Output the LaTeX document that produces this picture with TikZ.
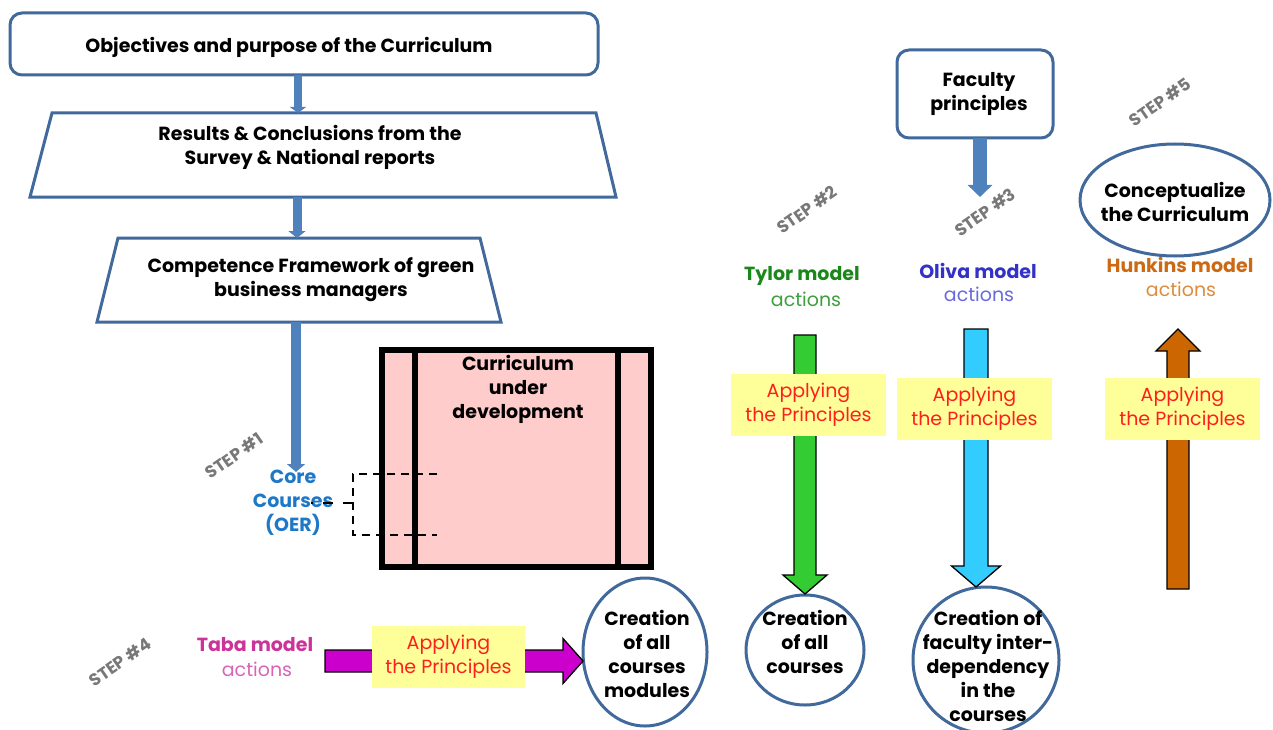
\documentclass[tikz,border=0pt]{standalone}
\usepackage{fontspec}
\setmainfont{Poppins}
\usetikzlibrary{shapes.geometric,arrows.meta,calc}
\definecolor{boxblue}{RGB}{65,105,155}
\definecolor{arrblue}{RGB}{79,129,189}
\definecolor{curpink}{RGB}{255,204,204}
\definecolor{labyellow}{RGB}{255,255,153}
\definecolor{labred}{RGB}{255,30,30}
\definecolor{stepgray}{RGB}{120,120,120}
\definecolor{coreblue}{RGB}{30,120,200}
\definecolor{tylorA}{RGB}{25,135,25}
\definecolor{tylorB}{RGB}{60,160,60}
\definecolor{olivaA}{RGB}{50,50,200}
\definecolor{olivaB}{RGB}{105,105,220}
\definecolor{hunkA}{RGB}{204,106,20}
\definecolor{hunkB}{RGB}{222,140,60}
\definecolor{tabaA}{RGB}{204,51,153}
\definecolor{tabaB}{RGB}{215,100,185}
\definecolor{agreen}{RGB}{51,204,51}
\definecolor{acyan}{RGB}{51,204,255}
\definecolor{aorange}{RGB}{204,102,0}
\definecolor{amagenta}{RGB}{204,0,204}
\newcommand\vblock[7]{%
  \filldraw[fill=#7, draw=black, line width=1.3pt]
    ({#1-#4},#2) -- ({#1+#4},#2) -- ({#1+#4},{#3-#6*sign(#3-#2)}) --
    ({#1+#5},{#3-#6*sign(#3-#2)}) -- (#1,#3) -- ({#1-#5},{#3-#6*sign(#3-#2)}) --
    ({#1-#4},{#3-#6*sign(#3-#2)}) -- cycle;}
\newcommand\hblock[7]{%
  \filldraw[fill=#7, draw=black, line width=1.3pt]
    (#2,{#1-#4}) -- (#2,{#1+#4}) -- ({#3-#6*sign(#3-#2)},{#1+#4}) --
    ({#3-#6*sign(#3-#2)},{#1+#5}) -- (#3,#1) -- ({#3-#6*sign(#3-#2)},{#1-#5}) --
    ({#3-#6*sign(#3-#2)},{#1-#4}) -- cycle;}
\begin{document}
\begin{tikzpicture}[x=1pt,y=-1pt,
  every node/.style={inner sep=0pt, outer sep=0pt, align=center},
  main/.style={font=\fontsize{19}{24}\selectfont\bfseries},
  reg/.style={font=\fontsize{19}{24}\selectfont},
  rbox/.style={draw=boxblue, line width=3pt, rounded corners=12pt, fill=white},
  traparea/.style={rectangle},
  trapline/.style={draw=boxblue, line width=3pt, line join=miter},
  circ/.style={draw=boxblue, line width=3pt, ellipse},
  steplab/.style={font=\fontsize{17}{20}\selectfont\bfseries, text=stepgray, rotate=35},
  ylab/.style={fill=labyellow, text=labred, font=\fontsize{19}{24}\selectfont, minimum height=62pt, minimum width=155pt},
  barrow/.style={draw=arrblue, line width=#1},
]
\useasboundingbox (0,0) rectangle (1273,730);

% ---- left column
\node[rbox, minimum width=588, minimum height=62] (obj) at (304,44) {};
\node[main] (objt) at (289,47) {Objectives and purpose of the Curriculum};

\node[traparea, minimum width=586, minimum height=84] (res) at (323,155) {};
\draw[trapline] ([xshift=22pt]res.north west) -- ([xshift=-20pt]res.north east) -- (res.south east) -- (res.south west) -- cycle;
\node[main] (rest) at (310,147) {Results \& Conclusions from the\\Survey \& National reports};

\node[traparea, minimum width=404, minimum height=84] (comp) at (299,280) {};
\draw[trapline] ([xshift=21pt]comp.north west) -- ([xshift=-21pt]comp.north east) -- (comp.south east) -- (comp.south west) -- cycle;
\node[main] (compt) at (311,280) {Competence Framework of green\\business managers};

\coordinate (ax1) at (298,0);
\coordinate (ax2) at (297,0);
\coordinate (ax3) at (296,0);
\draw[barrow=8pt, -{Triangle[width=16pt,length=6pt]}] (obj.south -| ax1) -- (res.north -| ax1);
\draw[barrow=9pt, -{Triangle[width=17pt,length=7pt]}] (res.south -| ax2) -- (comp.north -| ax2);

\node[main, text=coreblue] (core) at (293,503) {Core\\Courses\\(OER)};
\coordinate (coretop) at (296,472);
\draw[barrow=10pt, -{Triangle[width=18pt,length=8pt]}] (comp.south -| ax3) -- (coretop);

\node[steplab] (s1) at (234,456) {STEP \#1};

% curriculum box
\node[draw=black, line width=6pt, fill=curpink, minimum width=269, minimum height=217] (cur) at (516.5,458.5) {};
\draw[line width=6pt] (cur.north -| 415,0) -- (cur.south -| 415,0);
\draw[line width=6pt] (cur.north -| 618,0) -- (cur.south -| 618,0);
\node[main] (curt) at (518,389) {Curriculum\\under\\development};

% dashed bracket
\coordinate (bt) at (437,474);
\coordinate (bb) at (437,535);
\coordinate (bm) at (353,503);
\draw[dashed, dash pattern=on 8pt off 6pt, line width=1.6pt] (bt) -- (353,474) -- (353,535) -- (bb);
\draw[dashed, dash pattern=on 10pt off 10pt, line width=1.6pt] (bm) -- (core.east |- bm) -- ++(-22,0);

% ---- step 4 row
\node[steplab] (s4) at (120,662) {STEP \#4};
\node[main, text=tabaA] (taba) at (255,645) {Taba model};
\node[reg, text=tabaB] (tabaact) at (257,669) {actions};
\node[circ, minimum width=124, minimum height=148] (c4) at (645,652) {};
\node[main] (c4t) at (647,654) {Creation\\of all\\courses\\modules};
\hblock{661}{325}{583}{11}{22.5}{20}{amagenta}
\node[ylab, minimum width=153] (ap4) at (448.5,657) {Applying\\the Principles};

% ---- step 2
\node[steplab] (s2) at (807,210) {STEP \#2};
\node[main, text=tylorA] (tylor) at (802,276) {Tylor model};
\node[reg, text=tylorB] (tylact) at (806,299) {actions};
\node[circ, minimum width=118, minimum height=110] (c2) at (805,650) {};
\node[main] (c2t) at (805,642) {Creation\\of all\\courses};
\vblock{805}{335}{594}{11}{22}{19}{agreen}
\node[ylab] (ap1) at (808.5,405) {Applying\\the Principles};

% ---- step 3
\node[rbox, minimum width=156, minimum height=88] (fac) at (975,94) {};
\node[main] (fact) at (979,94) {Faculty\\principles};
\coordinate (facax) at (980,0);
\coordinate (factip) at (980,197);
\draw[barrow=14pt, -{Triangle[width=24pt,length=12pt]}] (fac.south -| facax) -- (factip);
\node[steplab] (s3) at (985,212) {STEP \#3};
\node[main, text=olivaA] (oliva) at (978,271) {Oliva model};
\node[reg, text=olivaB] (olact) at (979,294) {actions};
\node[circ, minimum width=146, minimum height=146] (c3) at (986,660) {};
\node[main] (c3t) at (988,666) {Creation of\\faculty inter-\\dependency\\in the\\courses};
\vblock{976}{329}{587}{12}{24.5}{21}{acyan}
\node[ylab] (ap2) at (974.5,408.5) {Applying\\the Principles};

% ---- step 5
\node[steplab] (s5) at (1160,102) {STEP \#5};
\node[circ, minimum width=190, minimum height=112] (c5) at (1175,200) {};
\node[main] (c5t) at (1175,202) {Conceptualize\\the Curriculum};
\node[main, text=hunkA] (hunk) at (1180,265) {Hunkins model};
\node[reg, text=hunkB] (hunkact) at (1181,289) {actions};
\vblock{1178}{589}{329}{11}{22}{22}{aorange}
\node[ylab] (ap3) at (1182.5,409) {Applying\\the Principles};
\end{tikzpicture}
\end{document}
